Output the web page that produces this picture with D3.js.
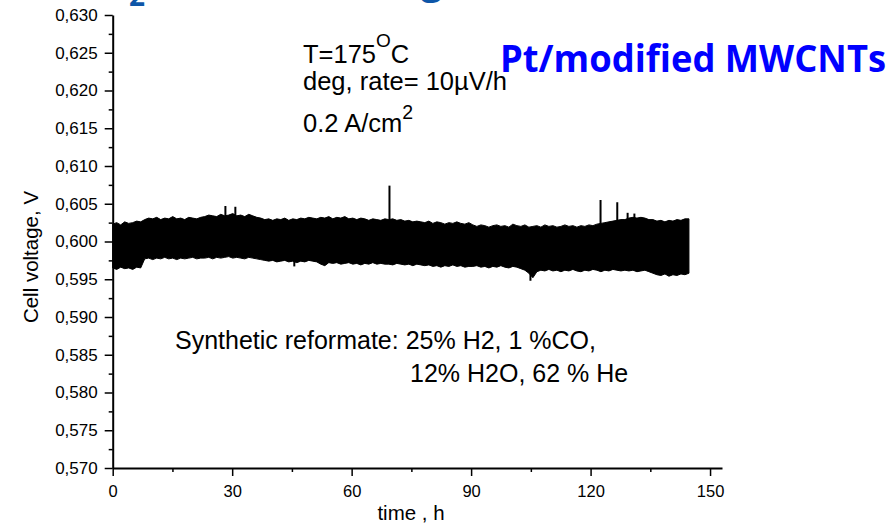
<!DOCTYPE html>
<html>
<head>
<meta charset="utf-8">
<script src="https://cdn.jsdelivr.net/npm/d3@7"></script>
<style>
  body { margin: 0; background: #fff; }
  text { font-family: "Liberation Sans", Arial, sans-serif; fill: #000; }
</style>
</head>
<body>
<svg id="chart" width="894" height="525"></svg>
<script>

// ---- data ----

// axis ticks
var yTicks = [0.570, 0.575, 0.580, 0.585, 0.590, 0.595, 0.600, 0.605, 0.610, 0.615, 0.620, 0.625, 0.630];
var xTicks = [0, 30, 60, 90, 120, 150];
var xMinorTicks = [15, 45, 75, 105, 135];

// end of the recorded run, h
var bandEndH = 144.7;

// upper envelope of the noisy voltage trace, one value per hour (0..144 h)
var upperV = [
    0.6023, 0.6025, 0.6022, 0.6026, 0.6024, 0.6025, 0.6027, 0.6026,
    0.6029, 0.6031, 0.6030, 0.6032, 0.6029, 0.6031, 0.6030, 0.6033, 0.6030, 0.6031, 0.6029, 0.6032, 0.6031, 0.6030, 0.6032,
    0.6033, 0.6035, 0.6034, 0.6033, 0.6036, 0.6034, 0.6035, 0.6037, 0.6034, 0.6035, 0.6033, 0.6036, 0.6034, 0.6032,
    0.6031, 0.6029, 0.6030, 0.6028, 0.6030, 0.6029, 0.6031, 0.6028, 0.6030, 0.6029, 0.6031, 0.6030, 0.6032, 0.6031,
    0.6030, 0.6032, 0.6031, 0.6033, 0.6030, 0.6032, 0.6031, 0.6033, 0.6030, 0.6031, 0.6029, 0.6031, 0.6030, 0.6028, 0.6030, 0.6029, 0.6028, 0.6030,
    0.6029, 0.6030, 0.6028, 0.6029, 0.6027, 0.6028, 0.6026, 0.6027, 0.6026,
    0.6025, 0.6027, 0.6024, 0.6026, 0.6025, 0.6023, 0.6025, 0.6024, 0.6026, 0.6024, 0.6023, 0.6025,
    0.6022, 0.6020, 0.6022, 0.6021, 0.6019, 0.6021, 0.6022, 0.6020, 0.6021, 0.6019,
    0.6023, 0.6021, 0.6020, 0.6022, 0.6019, 0.6020, 0.6021, 0.6019, 0.6022, 0.6020,
    0.6021, 0.6019, 0.6020, 0.6022, 0.6020, 0.6021, 0.6019, 0.6021, 0.6020, 0.6022, 0.6021,
    0.6023, 0.6024, 0.6025, 0.6026, 0.6027, 0.6028, 0.6029, 0.6029,
    0.6031, 0.6032, 0.6031, 0.6032, 0.6031, 0.6029,
    0.6029, 0.6027, 0.6028, 0.6026, 0.6028, 0.6027, 0.6029, 0.6028, 0.6030, 0.6030
];

// lower envelope, same hours
var lowerV = [
    0.5965, 0.5963, 0.5966, 0.5964, 0.5965, 0.5963, 0.5966, 0.5965,
    0.5977, 0.5978, 0.5976, 0.5978, 0.5977, 0.5979, 0.5977, 0.5978, 0.5976, 0.5978, 0.5977, 0.5978, 0.5979, 0.5977, 0.5978,
    0.5978, 0.5979, 0.5977, 0.5979, 0.5978, 0.5979, 0.5980, 0.5978, 0.5979, 0.5978, 0.5977, 0.5979, 0.5978, 0.5977,
    0.5976, 0.5975, 0.5974, 0.5975, 0.5973, 0.5974, 0.5975, 0.5973, 0.5974, 0.5972, 0.5974, 0.5973, 0.5975, 0.5974,
    0.5973, 0.5970, 0.5968, 0.5972, 0.5971, 0.5972, 0.5970, 0.5971, 0.5972, 0.5970, 0.5971, 0.5969, 0.5971, 0.5970, 0.5972, 0.5970, 0.5971, 0.5970,
    0.5970, 0.5969, 0.5971, 0.5970, 0.5969, 0.5970, 0.5968, 0.5970, 0.5969,
    0.5968, 0.5969, 0.5967, 0.5968, 0.5966, 0.5968, 0.5967, 0.5969, 0.5967, 0.5968, 0.5966, 0.5967,
    0.5967, 0.5968, 0.5966, 0.5967, 0.5965, 0.5967, 0.5966, 0.5968, 0.5966, 0.5965,
    0.5967, 0.5966, 0.5964, 0.5962, 0.5958, 0.5952, 0.5960, 0.5962, 0.5961, 0.5963,
    0.5961, 0.5962, 0.5960, 0.5962, 0.5961, 0.5963, 0.5961, 0.5960, 0.5962, 0.5961, 0.5963,
    0.5962, 0.5960, 0.5962, 0.5961, 0.5963, 0.5962, 0.5961, 0.5962,
    0.5961, 0.5962, 0.5960, 0.5961, 0.5962, 0.5960,
    0.5958, 0.5956, 0.5955, 0.5957, 0.5954, 0.5956, 0.5955, 0.5957, 0.5956, 0.5958
];

// isolated spikes sticking out of the band
var spikeTimes = [28.3, 30.8, 45.6, 69.5, 104.9, 122.5, 126.7, 129.3, 131.0];
var spikeValues = [0.6047, 0.6046, 0.5967, 0.6074, 0.5948, 0.6055, 0.6052, 0.6038, 0.6037];

// ---- chart ----

var svg = d3.select('#chart');

var x = d3.scaleLinear()
    .domain([0, 153])
    .range([112.7, 722]);

var y = d3.scaleLinear()
    .domain([0.570, 0.630])
    .range([468, 15]);

var commaFormat = function (d) { return d3.format('.3f')(d).replace('.', ','); };

// minor ticks sit halfway between the major ones
var yMinorTicks = yTicks.slice(1).map(function (d, i) { return (d + yTicks[i]) / 2; });

// noisy band
var samples = upperV.map(function (d, i) {
    return {t: i * bandEndH / (upperV.length - 1), hi: d, lo: lowerV[i]};
});

var band = d3.area()
    .x(function (d) { return x(d.t); })
    .y0(function (d) { return y(d.lo); })
    .y1(function (d) { return y(d.hi); });

svg.append('path')
    .datum(samples)
    .attr('d', band)
    .attr('fill', '#000')
    .attr('stroke', '#000')
    .attr('stroke-width', 1);

svg.selectAll('.spike')
    .data(spikeTimes)
    .enter()
    .append('line')
    .attr('class', 'spike')
    .attr('x1', function (d) { return x(d); })
    .attr('x2', function (d) { return x(d); })
    .attr('y1', y(0.600))
    .attr('y2', function (d, i) { return y(spikeValues[i]); })
    .attr('stroke', '#000')
    .attr('stroke-width', 2);

// y axis
var yAxisG = svg.append('g')
    .attr('transform', 'translate(' + x(0) + ',0)')
    .call(d3.axisLeft(y).tickValues(yTicks).tickSize(8).tickSizeOuter(0).tickPadding(7).tickFormat(commaFormat))
    .attr('font-size', 17)
    .attr('font-family', '"Liberation Sans", Arial, sans-serif');

svg.append('g')
    .attr('transform', 'translate(' + x(0) + ',0)')
    .call(d3.axisLeft(y).tickValues(yMinorTicks).tickSize(4).tickFormat(''))
    .call(function (g) { g.select('.domain').remove(); })
    .selectAll('line').attr('stroke-width', 1.5);

yAxisG.select('.domain').attr('stroke-width', 2);
yAxisG.selectAll('line').attr('stroke-width', 1.5);
yAxisG.selectAll('text')
    .style('font-size', '17px', 'important')
    .attr('fill', '#000');

// x axis
var xAxisG = svg.append('g')
    .attr('transform', 'translate(0,' + y(0.570) + ')')
    .call(d3.axisBottom(x).tickValues(xTicks).tickSize(8).tickSizeOuter(0).tickPadding(9))
    .attr('font-size', 16.5)
    .attr('font-family', '"Liberation Sans", Arial, sans-serif');

svg.append('g')
    .attr('transform', 'translate(0,' + y(0.570) + ')')
    .call(d3.axisBottom(x).tickValues(xMinorTicks).tickSize(4).tickFormat(''))
    .call(function (g) { g.select('.domain').remove(); })
    .selectAll('line').attr('stroke-width', 1.5);

xAxisG.select('.domain').attr('stroke-width', 2);
xAxisG.selectAll('line').attr('stroke-width', 1.5);
xAxisG.selectAll('text')
    .style('font-size', '16.5px', 'important')
    .attr('fill', '#000');

// axis titles
svg.append('text')
    .attr('transform', 'translate(38,257) rotate(-90)')
    .attr('text-anchor', 'middle')
    .style('font-size', '20.5px')
    .text('Cell voltage, V');

svg.append('text')
    .attr('x', 411)
    .attr('y', 520)
    .attr('text-anchor', 'middle')
    .style('font-size', '20.5px')
    .text('time , h');

// annotations
var tLine = svg.append('text')
    .attr('x', 303)
    .attr('y', 63)
    .style('font-size', '25.5px');
tLine.append('tspan').text('T=175');
tLine.append('tspan').attr('dy', -16).style('font-size', '19px').text('O');
tLine.append('tspan').attr('dy', 16).text('C');

svg.append('text')
    .attr('x', 303)
    .attr('y', 89.5)
    .style('font-size', '25.5px')
    .text('deg, rate= 10µV/h');

var cdLine = svg.append('text')
    .attr('x', 303)
    .attr('y', 131.7)
    .style('font-size', '25.5px');
cdLine.append('tspan').text('0.2 A/cm');
cdLine.append('tspan').attr('dy', -12.4).style('font-size', '19.5px').text('2');

svg.append('text')
    .attr('x', 175)
    .attr('y', 349)
    .style('font-size', '25px')
    .text('Synthetic reformate: 25% H2, 1 %CO,');

svg.append('text')
    .attr('x', 410)
    .attr('y', 382)
    .style('font-size', '25px')
    .text('12% H2O, 62 % He');

// catalyst label
svg.append('text')
    .attr('x', 500)
    .attr('y', 72)
    .attr('textLength', 386)
    .attr('lengthAdjust', 'spacingAndGlyphs')
    .style('font-family', '"Open Sans", Lato, sans-serif')
    .style('font-weight', 'bold')
    .style('font-size', '37px')
    .style('fill', '#0000ff')
    .text('Pt/modified MWCNTs');

// remains of the slide title cut off at the top edge
svg.append('text')
    .attr('x', 129)
    .attr('y', 6)
    .style('font-family', '"Open Sans", Lato, sans-serif')
    .style('font-weight', 'bold')
    .style('font-size', '28px')
    .style('fill', '#0e56a8')
    .text('2');

svg.append('text')
    .attr('x', 421)
    .attr('y', -6)
    .style('font-family', '"Open Sans", Lato, sans-serif')
    .style('font-weight', 'bold')
    .style('font-size', '38px')
    .style('fill', '#0e56a8')
    .text('g');

</script>
</body>
</html>
